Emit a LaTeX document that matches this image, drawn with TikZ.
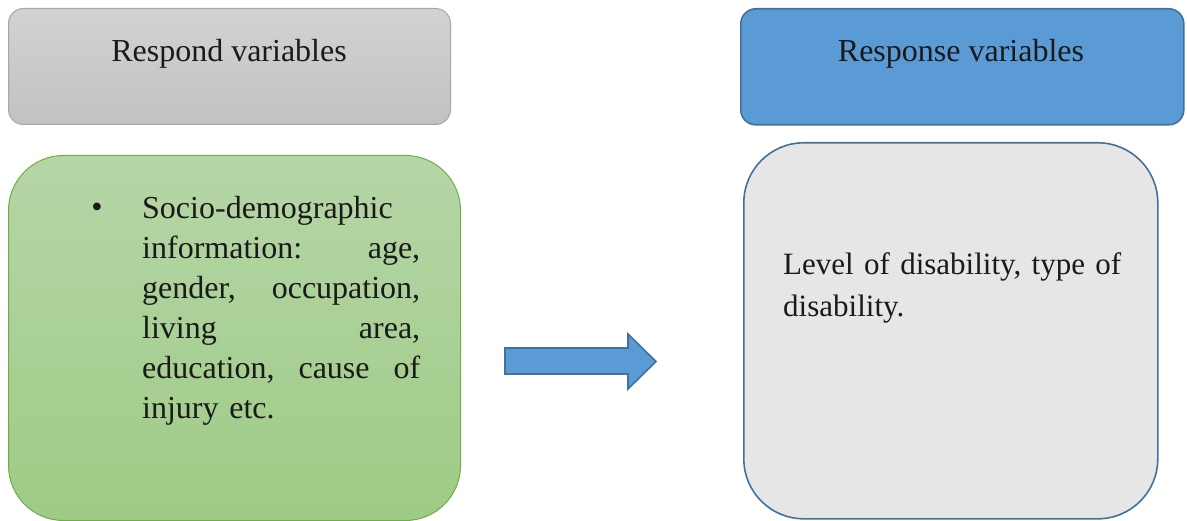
\documentclass[tikz,border=0pt]{standalone}
\usepackage{fontspec}
\setmainfont{Liberation Serif}
\definecolor{hdgray}{HTML}{A6A6A6}
\definecolor{hdblue}{HTML}{5B9BD5}
\definecolor{lnblue}{HTML}{41719C}
\definecolor{lngreen}{HTML}{70AD47}
\definecolor{bxgray}{HTML}{E7E6E6}
\definecolor{txt}{HTML}{1A1A1A}

\begin{document}
\begin{tikzpicture}[x=1pt, y=-1pt,
	every node/.style	=	{inner sep=0pt, text=txt, font=\fontsize{32}{40}\selectfont},
	hdbox/.style		=	{rounded corners=15pt, minimum width=442pt, minimum height=116pt, anchor=north west},
	bigbox/.style		=	{anchor=north west}
]
\useasboundingbox (0,0) rectangle (1187,521);

% headers
\node[hdbox, draw=hdgray, line width=1pt, top color=gray!35, bottom color=gray!48] (hdl) at (8,8) {};
\node[hdbox, draw=lnblue, line width=1.6pt, fill=hdblue, minimum width=443pt] (hdr) at (740,8) {};
\node[anchor=base] (tl) at (229,62) {Respond variables};
\node[anchor=base] (tr) at (961,62) {Response variables};

% content boxes
\node[bigbox, rounded corners=55pt, minimum width=452pt, minimum height=365pt,
	draw=lngreen, line width=1pt, top color={rgb,255:red,181;green,214;blue,167},
	bottom color={rgb,255:red,158;green,203;blue,133}] (bxl) at (8,155) {};
\node[bigbox, rounded corners=60pt, minimum width=414pt, minimum height=376pt,
	draw=lnblue, line width=1.6pt, fill=bxgray] (bxr) at (743,142) {};

\node[anchor=base] (bul) at (97,218) {\textbullet};
\node[anchor=north west, text width=278pt, align=left] (txl) at (142,196)
{Socio-demographic\\
information:\hfill age,\\
gender,\hfill occupation,\\
living\hfill area,\\
education,\hfill cause\hfill of\\
injury etc.};
\node[anchor=north west, text width=360pt, align=left,
	font=\fontsize{31}{42}\selectfont] (txr) at (783,252)
{Level of disability, type of\\ disability.};

% block arrow
\draw[draw=lnblue, line width=1.6pt, fill=hdblue, line join=miter]
	(505,348) -- (628,348) -- (628,334) -- (656,361.5) -- (628,389)
	-- (628,374) -- (505,374) -- cycle;
\end{tikzpicture}
\end{document}
